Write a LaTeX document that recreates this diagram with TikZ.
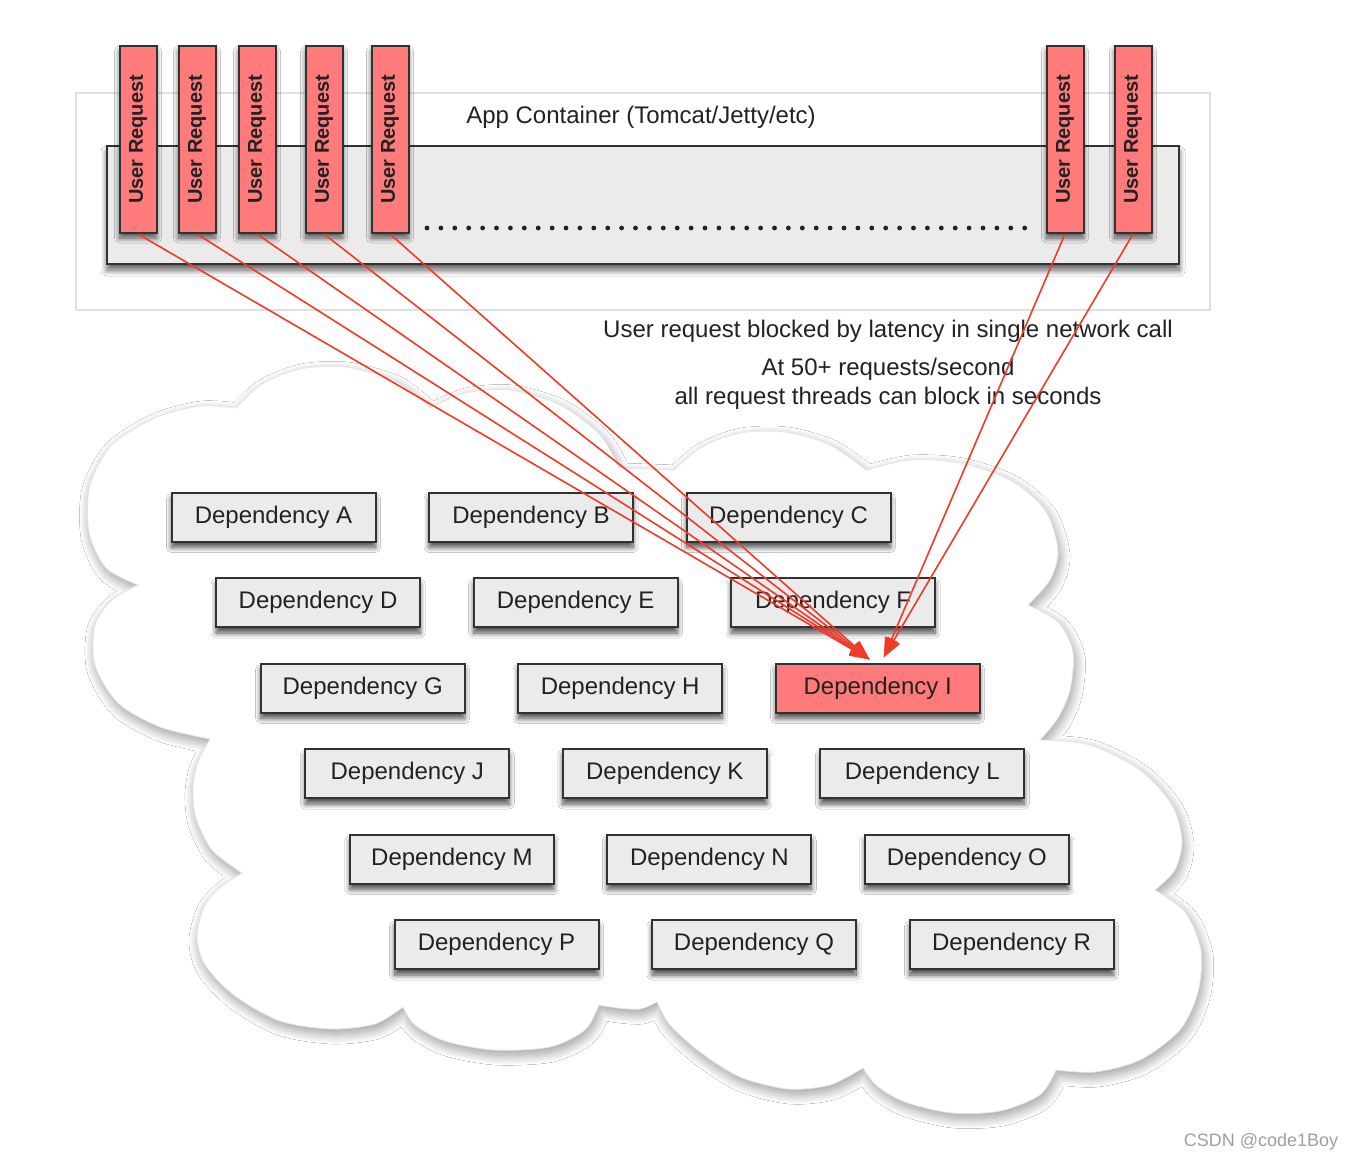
\documentclass[tikz,border=0pt]{standalone}
\usepackage{fontspec}
\setmainfont{Liberation Sans}
\usetikzlibrary{shadows.blur,arrows.meta,calc}
\definecolor{reqred}{RGB}{255,122,122}
\definecolor{linered}{RGB}{242,58,40}
\definecolor{boxgray}{RGB}{235,235,235}
\definecolor{edgec}{RGB}{50,50,50}
\definecolor{txt}{RGB}{34,34,34}
\begin{document}
\begin{tikzpicture}[x=0.5pt,y=-0.5pt,
  depbox/.style={draw=edgec, line width=1pt, fill=boxgray, minimum width=102pt, minimum height=24.5pt,
    inner sep=0pt, font=\fontsize{12}{14}\selectfont, text=txt,
    blur shadow={shadow xshift=0pt, shadow yshift=-3pt, shadow blur radius=2.5pt, shadow opacity=70, shadow blur steps=12}},
  reqbar/.style={draw=edgec, line width=1pt, fill=reqred, rotate=90, minimum width=93.5pt, minimum height=18.5pt,
    inner sep=0pt, font=\bfseries\fontsize{10}{12}\selectfont, text=txt,
    blur shadow={shadow xshift=0pt, shadow yshift=-2.5pt, shadow blur radius=2.5pt, shadow opacity=65, shadow blur steps=12}},
  redline/.style={draw=linered, line width=0.8pt, -{Triangle[length=10pt,width=7pt]}},
  lbl/.style={font=\fontsize{12}{14}\selectfont, text=txt, inner sep=0pt}]
\useasboundingbox (0,0) rectangle (1356,1162);
\fill[white] (0,0) rectangle (1356,1162);

% app container
\draw[draw=gray!25, line width=0.6pt, fill=white] (76,93) rectangle (1210,310);
\draw[draw=edgec, line width=1pt, fill=boxgray,
  blur shadow={shadow xshift=0pt, shadow yshift=-3pt, shadow blur radius=3pt, shadow opacity=65, shadow blur steps=12}]
  (107,146) rectangle (1179,264);
\node[lbl] (appc) at (641,117) {App Container (Tomcat/Jetty/etc)};
\foreach \i in {0,...,43} \fill[txt] (427+\i*13.9,228) circle (1.2pt);

% cloud
\path[fill=white, draw=gray!20, line width=0.4pt,
  blur shadow={shadow xshift=1pt, shadow yshift=-2.5pt, shadow blur radius=5pt, shadow opacity=40, shadow blur steps=20}]
  plot[smooth] coordinates {(236,408) (262,384) (300,369) (345,367) (395,381) (430,408)}
  --plot[smooth] coordinates {(430,408) (465,393) (510,390) (560,405) (600,435) (619,468)}
  --plot[smooth] coordinates {(674,470) (702,447) (740,433) (785,432) (830,445) (866,470)}
  --plot[smooth] coordinates {(866,470) (910,460) (960,463) (1010,480) (1045,510) (1058,550) (1050,580) (1028,605)}
  --plot[smooth] coordinates {(1028,605) (1058,622) (1073,652) (1070,690) (1058,718) (1040,740)}
  --plot[smooth] coordinates {(1040,740) (1090,745) (1140,770) (1172,805) (1182,840) (1175,870) (1155,890)}
  --plot[smooth] coordinates {(1155,890) (1185,912) (1201,950) (1198,992) (1180,1030) (1140,1060) (1095,1072) (1056,1070)}
  --plot[smooth] coordinates {(1056,1070) (1040,1095) (1000,1111) (952,1113) (905,1102) (877,1086) (863,1068)}
  --plot[smooth] coordinates {(863,1068) (830,1085) (788,1089) (740,1077) (700,1052) (670,1025) (657,1002)}
  --plot[smooth] coordinates {(657,1002) (640,1009) (618,1008) (599,1005)}
  --plot[smooth] coordinates {(599,1005) (585,1030) (550,1047) (494,1050) (445,1041) (415,1025) (403,1007)}
  --plot[smooth] coordinates {(403,1007) (375,1024) (331,1029) (280,1021) (235,996) (205,965) (197,936) (205,905) (222,886) (242,873)}
  --plot[smooth] coordinates {(242,873) (212,850) (196,818) (193,788) (198,762) (210,739)}
  --plot[smooth] coordinates {(210,739) (160,727) (118,703) (95,665) (95,625) (112,600) (138,585)}
  --plot[smooth] coordinates {(138,585) (106,568) (89,532) (90,485) (112,445) (155,418) (200,406) (236,408)}
  -- cycle;

% dependencies
\node[depbox] (dA) at (273.5,517) {Dependency A};
\node[depbox] (dB) at (531,517) {Dependency B};
\node[depbox] (dC) at (788.5,517) {Dependency C};
\node[depbox] (dD) at (318.1,602.5) {Dependency D};
\node[depbox] (dE) at (575.6,602.5) {Dependency E};
\node[depbox] (dF) at (833.1,602.5) {Dependency F};
\node[depbox] (dG) at (362.7,688) {Dependency G};
\node[depbox] (dH) at (620.2,688) {Dependency H};
\node[depbox, fill=reqred] (dI) at (877.7,688) {Dependency I};
\node[depbox] (dJ) at (407.3,773.5) {Dependency J};
\node[depbox] (dK) at (664.8,773.5) {Dependency K};
\node[depbox] (dL) at (922.3,773.5) {Dependency L};
\node[depbox] (dM) at (451.9,859) {Dependency M};
\node[depbox] (dN) at (709.4,859) {Dependency N};
\node[depbox] (dO) at (966.9,859) {Dependency O};
\node[depbox] (dP) at (496.5,944.5) {Dependency P};
\node[depbox] (dQ) at (754,944.5) {Dependency Q};
\node[depbox] (dR) at (1011.5,944.5) {Dependency R};

% captions
\node[lbl] (t1) at (888,331) {User request blocked by latency in single network call};
\node[lbl] (t2) at (888,369) {At 50+ requests/second};
\node[lbl] (t3) at (888,398) {all request threads can block in seconds};

% user request bars
\node[reqbar] (u1) at (138,139.5) {User Request};
\node[reqbar] (u2) at (197,139.5) {User Request};
\node[reqbar] (u3) at (257,139.5) {User Request};
\node[reqbar] (u4) at (324,139.5) {User Request};
\node[reqbar] (u5) at (390,139.5) {User Request};
\node[reqbar] (u6) at (1065,139.5) {User Request};
\node[reqbar] (u7) at (1133,139.5) {User Request};

% connectors
\coordinate (tipL) at ($(dI.north)+(-8,-3)$);
\coordinate (tipR) at ($(dI.north)+(6,-5)$);
\foreach \u in {u1,u2,u3,u4,u5} \draw[redline] (\u.west) -- (tipL);
\foreach \u in {u6,u7} \draw[redline] (\u.west) -- (tipR);

\node[font=\fontsize{9}{11}\selectfont, text=gray!75, inner sep=0pt] (wm) at (1261,1142) {CSDN @code1Boy};
\end{tikzpicture}
\end{document}
